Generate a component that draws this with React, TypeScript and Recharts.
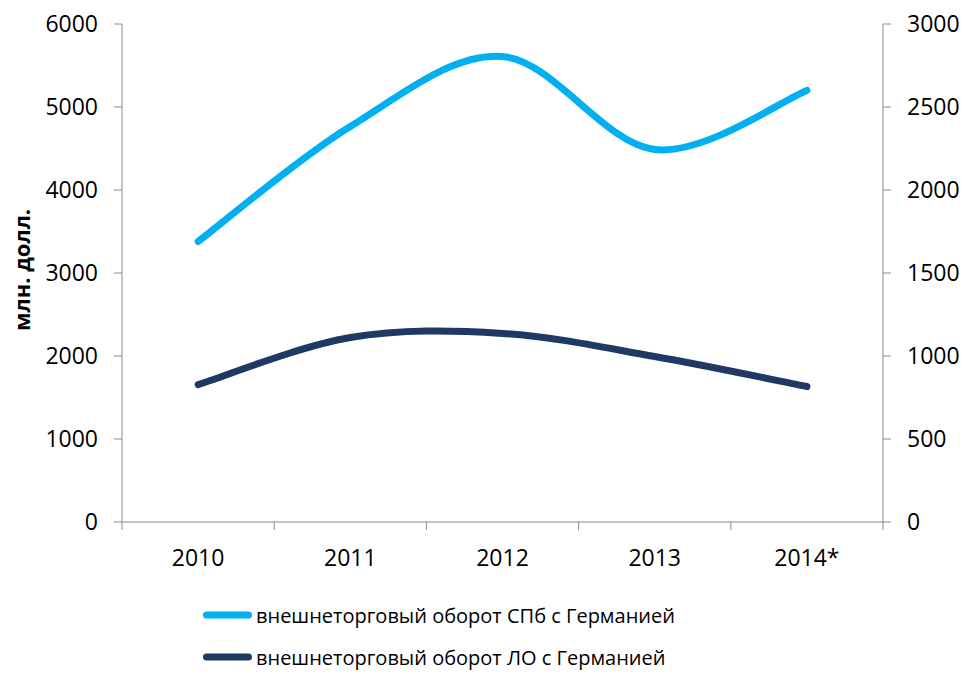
import React from 'react';
import { LineChart, Line, XAxis, YAxis, Legend } from 'recharts';

const years = ['2010', '2011', '2012', '2013', '2014*'];
const spbTurnover = [3380, 4765, 5608, 4488, 5200];
const loTurnover = [828, 1111, 1136, 997, 816];
const leftTicks = [0, 1000, 2000, 3000, 4000, 5000, 6000];
const rightTicks = [0, 500, 1000, 1500, 2000, 2500, 3000];
const spbName = 'внешнеторговый оборот СПб с Германией';
const loName = 'внешнеторговый оборот ЛО с Германией';
const legendOrder = [spbName, loName];

const data = years.map((year, i) => ({ year, spb: spbTurnover[i], lo: loTurnover[i] }));

const FONT = '"Open Sans", "Noto Sans", sans-serif';
const AXIS = '#8c8c8c';

// excel-like smoothing (catmull-rom with 1/6 control points)
const excelSmooth = (context: any) => {
  let xs: number[] = [];
  let ys: number[] = [];
  return {
    areaStart() {},
    areaEnd() {},
    lineStart() {
      xs = [];
      ys = [];
    },
    point(x: number, y: number) {
      xs.push(+x);
      ys.push(+y);
    },
    lineEnd() {
      const n = xs.length;
      if (!n) return;
      context.moveTo(xs[0], ys[0]);
      for (let i = 0; i < n - 1; i++) {
        const a = Math.max(i - 1, 0);
        const d = Math.min(i + 2, n - 1);
        context.bezierCurveTo(
          xs[i] + (xs[i + 1] - xs[a]) / 6,
          ys[i] + (ys[i + 1] - ys[a]) / 6,
          xs[i + 1] - (xs[d] - xs[i]) / 6,
          ys[i + 1] - (ys[d] - ys[i]) / 6,
          xs[i + 1],
          ys[i + 1],
        );
      }
    },
  };
};

const YearTick = (props: any) => {
  const { x, y, payload, index, visibleTicksCount } = props;
  const half = payload.offset || 76;
  return (
    <g>
      <line x1={x - half} x2={x - half} y1={y - 8} y2={y} stroke={AXIS} />
      {index === visibleTicksCount - 1 && (
        <line x1={x + half} x2={x + half} y1={y - 8} y2={y} stroke={AXIS} />
      )}
      <text x={x} y={y + 27} textAnchor="middle" dominantBaseline="central" fill="#000" fontSize={23} fontFamily={FONT}>
        {payload.value}
      </text>
    </g>
  );
};

const renderLegend = (props: any) => {
  const items = legendOrder
    .map((name) => (props.payload || []).find((p: any) => p.value === name))
    .filter(Boolean);
  return (
    <div style={{ fontFamily: FONT }}>
      {items.map((entry: any) => (
        <div key={entry.value} style={{ display: 'flex', alignItems: 'center', height: 42 }}>
          <svg width={49} height={10}>
            <line x1={3.5} x2={45.5} y1={5} y2={5} stroke={entry.color} strokeWidth={7} strokeLinecap="round" />
          </svg>
          <span style={{ marginLeft: 4, fontSize: 20, color: '#000', whiteSpace: 'nowrap' }}>{entry.value}</span>
        </div>
      ))}
    </div>
  );
};

const AxisTitle = (props: any) => {
  const vb = props.viewBox;
  const cx = vb.x + 21;
  const cy = vb.y + vb.height / 2 - 3;
  return (
    <text x={cx} y={cy} transform={`rotate(-90 ${cx} ${cy})`} textAnchor="middle" dominantBaseline="central" fontWeight={700} fontSize={22} fontFamily={FONT} fill="#000">
      млн. долл.
    </text>
  );
};

export default function App() {
  return (
    <div style={{ position: 'absolute', left: 0, top: 0, width: 967, height: 674, background: '#fff', fontFamily: FONT }}>
      <LineChart width={967} height={674} data={data} margin={{ top: 24, right: 0, bottom: 112, left: 0 }}>
        <XAxis
          dataKey="year"
          scale="band"
          height={40}
          stroke={AXIS}
          tickLine={false}
          tickSize={8}
          tickMargin={0}
          tick={<YearTick />}
          interval={0}
        />
        <YAxis
          yAxisId="left"
          orientation="left"
          width={122}
          domain={[0, 6000]}
          ticks={leftTicks}
          stroke={AXIS}
          tickSize={8}
          tickMargin={16}
          tick={{ fill: '#000', fontSize: 23, fontFamily: FONT }}
          label={{ content: <AxisTitle /> }}
        />
        <YAxis
          yAxisId="right"
          orientation="right"
          width={84}
          domain={[0, 3000]}
          ticks={rightTicks}
          stroke={AXIS}
          tickSize={8}
          tickMargin={16}
          tick={{ fill: '#000', fontSize: 23, fontFamily: FONT, textAnchor: 'start' }}
        />
        <Line
          yAxisId="left"
          dataKey="spb"
          name={spbName}
          type={excelSmooth as any}
          stroke="#00B0F0"
          strokeWidth={7}
          strokeLinecap="round"
          dot={false}
          activeDot={false}
          isAnimationActive={false}
        />
        <Line
          yAxisId="right"
          dataKey="lo"
          name={loName}
          type={excelSmooth as any}
          stroke="#1F3864"
          strokeWidth={7}
          strokeLinecap="round"
          dot={false}
          activeDot={false}
          isAnimationActive={false}
        />
        <Legend
          layout="vertical"
          verticalAlign="middle"
          align="center"
          content={renderLegend}
          wrapperStyle={{ position: 'absolute', top: 594, left: 203, width: 600, height: 84 }}
        />
      </LineChart>
    </div>
  );
}
